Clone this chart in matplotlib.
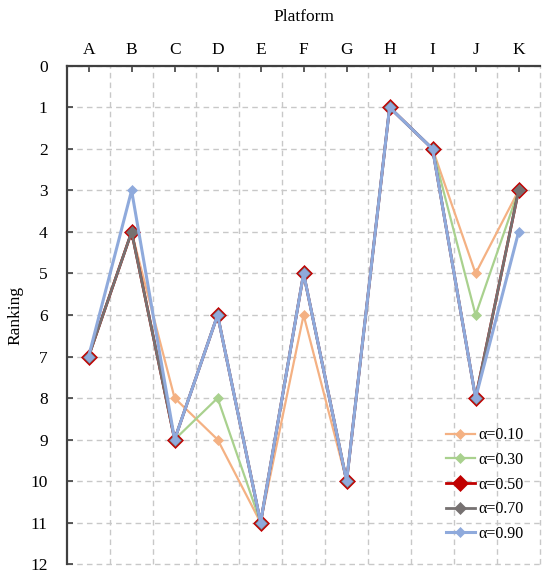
"""
Ranking des plateformes selon alpha
"""

import numpy as np
import matplotlib.pyplot as plt

plt.rcParams['font.family'] = ['Liberation Serif', 'DejaVu Serif']

platforms = ["A", "B", "C", "D", "E", "F", "G", "H", "I", "J", "K"]
alphas = ["α=0.10", "α=0.30", "α=0.50", "α=0.70", "α=0.90"]

rank_010 = [7, 4, 8, 9, 11, 6, 10, 1, 2, 5, 3]
rank_030 = [7, 4, 9, 8, 11, 5, 10, 1, 2, 6, 3]
rank_050 = [7, 4, 9, 6, 11, 5, 10, 1, 2, 8, 3]
rank_070 = [7, 4, 9, 6, 11, 5, 10, 1, 2, 8, 3]
rank_090 = [7, 3, 9, 6, 11, 5, 10, 1, 2, 8, 4]

series = [rank_010, rank_030, rank_050, rank_070, rank_090]
colors = ["#F4B183", "#A9D18E", "#C00000", "#767171", "#8FAADC"]
widths = [1.6, 1.6, 2.0, 2.0, 2.2]
msizes = [5, 5, 8, 6, 5.5]

fig = plt.figure(figsize=(5.5, 5.78), dpi=100)
ax = fig.add_axes([0.122, 0.024, 0.86, 0.862])

x = np.arange(len(platforms))
for vals, lab, col, lw, ms in zip(series, alphas, colors, widths, msizes):
    ax.plot(x, vals, color=col, lw=lw, marker="D", markersize=ms,
            markerfacecolor=col, markeredgecolor=col,
            markeredgewidth=0.5, label=lab)

# Axes
ax.set_xlim(-0.5, len(platforms) - 0.5)
ax.set_ylim(12, 0)
ax.set_yticks(range(0, 13))
ax.set_xticks(x)
ax.set_xticklabels(platforms)
ax.xaxis.tick_top()
ax.xaxis.set_label_position("top")
ax.set_xlabel("Platform", fontsize=12.5, labelpad=15)
ax.set_ylabel("Ranking", fontsize=12.5, labelpad=5)
ax.tick_params(axis="both", direction="in", length=4, width=1.2,
               labelsize=12.5, color="#404040")
ax.tick_params(axis="x", pad=6)
ax.tick_params(axis="y", pad=14)

# Grille
ax.set_xticks(np.arange(0.5, len(platforms) + 0.5, 1), minor=True)
ax.tick_params(axis="x", which="minor", length=0)
ax.grid(False)
ax.xaxis.grid(True, which="minor", ls=(0, (4, 3)), color="#C8C8C8", lw=1)
ax.yaxis.grid(True, which="major", ls=(0, (4, 3)), color="#C8C8C8", lw=1)
for tk in ax.xaxis.get_minor_ticks() + ax.yaxis.get_major_ticks():
    tk.gridline.set_clip_on(False)
ax.set_axisbelow(True)

for side in ["right", "bottom"]:
    ax.spines[side].set_visible(False)
for side in ["left", "top"]:
    ax.spines[side].set_color("#404040")
    ax.spines[side].set_linewidth(1.6)

ax.legend(loc="lower right", frameon=False, fontsize=11.5, handlelength=1.8,
          handletextpad=0.2, labelspacing=0.54, borderaxespad=0,
          bbox_to_anchor=(0.978, 0.032))

fig.savefig("out.png", dpi=100)
